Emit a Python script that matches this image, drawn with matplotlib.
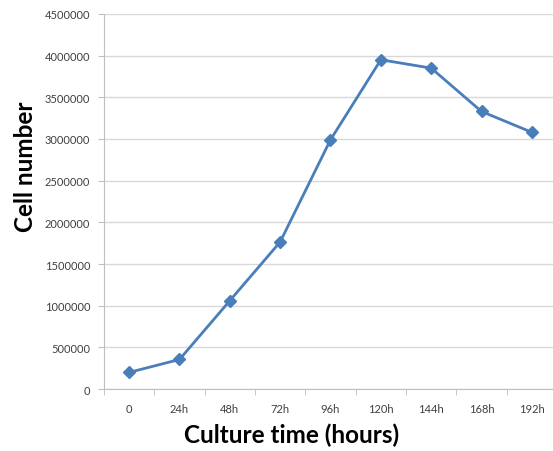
import numpy as np
import matplotlib.pyplot as plt
from matplotlib.ticker import FixedLocator

# --- data ---
times = ["0", "24h", "48h", "72h", "96h", "120h", "144h", "168h", "192h"]
cells = [200000, 355000, 1060000, 1765000, 2990000, 3950000, 3850000, 3330000, 3080000]
yticks = list(range(0, 4500001, 500000))

# --- plot ---
fig = plt.figure(figsize=(5.53, 4.52), dpi=100)
ax = fig.add_axes([0.188, 0.137, 0.812, 0.830])

x = np.arange(len(times))
ax.plot(x, cells, color="#4a7ebb", lw=2, marker="D", ms=6, zorder=3)

ax.set_xlim(-0.5, len(times) - 0.58)
ax.set_ylim(0, 4500000)
ax.set_yticks(yticks)
ax.set_yticklabels([str(v) for v in yticks])
ax.set_xticks(x)
ax.set_xticklabels(times)
ax.xaxis.set_minor_locator(FixedLocator(np.arange(-0.5, len(times), 1.0)))

ax.grid(axis="y", color="#d9d9d9", lw=1)
ax.set_axisbelow(True)
for s in ["top", "right"]:
    ax.spines[s].set_visible(False)
ax.spines["left"].set_color("#bfbfbf")
ax.spines["bottom"].set_color("#bfbfbf")

ax.tick_params(axis="y", length=4, color="#bfbfbf", labelsize=8, labelcolor="#404040", pad=6)
ax.tick_params(axis="x", which="major", length=0, labelsize=8, labelcolor="#404040", pad=10)
ax.tick_params(axis="x", which="minor", length=4, color="#bfbfbf")

for lab in ax.get_xticklabels() + ax.get_yticklabels():
    lab.set_family("Lato")

ax.set_ylabel("Cell number", fontsize=17.5, fontweight="bold", family="Lato")
ax.set_xlabel("Culture time (hours)", fontsize=17.5, fontweight="bold", family="Lato")
ax.xaxis.set_label_coords((292 - 104) / (553 * 0.812), -0.09)
ax.yaxis.set_label_coords(-(104 - 37) / (553 * 0.812), 0.595)

fig.savefig("out.png", dpi=100)
